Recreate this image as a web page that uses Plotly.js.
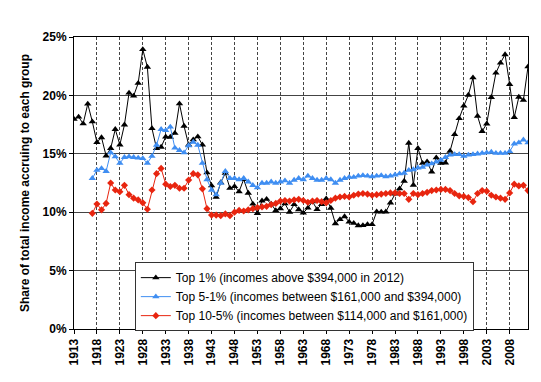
<!DOCTYPE html>
<html>
<head>
<meta charset="utf-8">
<script src="https://cdn.plot.ly/plotly-3.0.1.min.js"></script>
<style>html,body{margin:0;padding:0;background:#fff;}#chart{width:541px;height:382px;}</style>
</head>
<body>
<div id="chart"></div>
<script>
const years = [];
for (let y = 1913; y <= 2012; y++) years.push(y);

const top1 = [17.96,18.16,17.58,19.27,17.75,15.98,16.39,14.83,15.47,17.10,
15.77,17.48,20.21,19.95,21.05,23.94,22.43,17.17,15.46,15.58,
16.46,16.43,16.76,19.29,17.37,15.77,16.21,16.47,15.77,13.38,
12.27,11.30,12.54,13.34,12.06,12.21,11.76,12.82,11.64,10.71,
9.91,10.97,11.11,10.71,10.14,10.31,10.73,10.01,10.66,10.23,
9.94,10.37,10.91,10.24,10.66,11.16,10.36,9.03,9.38,9.63,
9.17,9.06,8.86,8.87,8.95,8.95,10.04,10.02,10.03,10.80,
11.56,12.01,12.67,15.92,12.32,15.47,14.20,14.33,13.45,14.67,
14.21,14.23,15.23,16.66,18.03,19.10,20.03,21.52,18.23,16.93,
17.57,19.84,21.92,22.78,23.50,20.95,18.12,19.86,19.59,22.46];

const top5to1 = [null,null,null,null,
12.9,13.6,13.75,13.5,15.1,14.75,14.2,14.7,14.75,14.7,
14.65,14.6,14.2,14.8,15.75,17.1,17.0,17.3,15.5,15.3,
15.1,15.7,16.0,15.75,14.2,12.8,11.9,11.5,12.5,13.5,
12.9,12.9,12.8,12.9,12.6,12.3,12.1,12.5,12.5,12.6,
12.5,12.6,12.7,12.5,12.75,12.9,12.8,13.1,12.9,12.75,
12.75,12.9,12.8,12.5,12.75,12.9,13.0,13.0,13.1,13.15,
13.1,13.05,13.1,13.15,13.05,13.1,13.2,13.3,13.35,13.6,
13.65,13.8,13.85,14.05,14.15,14.3,14.45,14.7,14.9,14.95,
14.95,14.8,14.9,14.95,15.0,15.05,15.1,15.15,15.05,15.05,
15.05,15.2,15.85,15.95,16.2,15.95];

const top10to5 = [null,null,null,null,
9.9,10.7,10.2,10.75,12.5,11.9,11.75,12.3,11.5,11.2,
11.05,10.8,10.25,11.9,13.3,13.75,12.4,12.2,12.3,12.05,
12.05,12.75,13.3,13.2,12.0,10.3,9.75,9.75,9.7,9.85,
9.7,10.0,10.15,10.1,10.2,10.3,10.4,10.45,10.5,10.65,
10.75,10.95,11.0,10.95,11.05,11.1,11.0,10.85,10.95,11.0,
10.9,10.8,11.0,11.2,11.3,11.35,11.3,11.45,11.55,11.6,
11.55,11.45,11.5,11.55,11.6,11.65,11.65,11.6,11.6,11.1,
11.6,11.5,11.6,11.7,11.85,11.9,11.95,11.95,11.85,11.6,
11.4,11.35,11.25,10.9,11.6,11.85,11.8,11.45,11.3,11.2,
11.1,11.65,12.4,12.25,12.3,11.85];

const seriesNames = [
  "Top 1% (incomes above $394,000 in 2012)",
  "Top 5-1% (incomes between $161,000 and $394,000)",
  "Top 10-5% (incomes between $114,000 and $161,000)"
];
const xTickVals = [1913,1918,1923,1928,1933,1938,1943,1948,1953,1958,1963,1968,1973,1978,1983,1988,1993,1998,2003,2008];
const xTickText = xTickVals.map(String);
const yTickVals = [0,5,10,15,20,25];
const yTickText = ['0%','5%','10%','15%','20%','25%'];

const FONT = "Liberation Sans, Arial, sans-serif";

const traces = [
  {x: years, y: top1, name: seriesNames[0], type: 'scatter', mode: 'lines+markers',
   line: {color: '#000000', width: 1}, marker: {symbol: 'triangle-up', size: 6.5, color: '#000000'}},
  {x: years, y: top5to1, name: seriesNames[1], type: 'scatter', mode: 'lines+markers',
   line: {color: '#3F8EF2', width: 1}, marker: {symbol: 'triangle-up', size: 6.5, color: '#3F8EF2'}},
  {x: years, y: top10to5, name: seriesNames[2], type: 'scatter', mode: 'lines+markers',
   line: {color: '#E8250F', width: 1}, marker: {symbol: 'diamond', size: 5.5, color: '#E8250F'}}
];

const layout = {
  width: 541, height: 382,
  margin: {l: 74, r: 13, t: 37, b: 53},
  paper_bgcolor: '#ffffff', plot_bgcolor: '#ffffff',
  font: {family: FONT, color: '#000'},
  showlegend: true,
  legend: {x: 0.134, y: 0.229, xanchor: 'left', yanchor: 'top',
    bgcolor: '#ffffff', bordercolor: '#333', borderwidth: 1,
    font: {family: FONT, size: 12, color: '#000'}, itemwidth: 30, tracegroupgap: 0},
  xaxis: {
    range: [1913, 2012], tickmode: 'array', tickvals: xTickVals, ticktext: xTickText,
    tickangle: -90, tickfont: {family: FONT, size: 12, weight: 'bold', color: '#000'},
    showgrid: true, gridcolor: '#444', gridwidth: 1, griddash: '3px,2px',
    showline: true, linecolor: '#000', linewidth: 1, mirror: true,
    ticks: 'outside', ticklen: 4, tickcolor: '#000', zeroline: false
  },
  yaxis: {
    range: [0, 25], tickmode: 'array', tickvals: yTickVals, ticktext: yTickText,
    tickfont: {family: FONT, size: 12, weight: 'bold', color: '#000'},
    showgrid: true, gridcolor: '#444', gridwidth: 1,
    showline: true, linecolor: '#000', linewidth: 1, mirror: true,
    ticks: 'outside', ticklen: 4, tickcolor: '#000', zeroline: false,
    title: {text: 'Share of total income accruing to each group',
      font: {family: FONT, size: 12, weight: 'bold', color: '#000'}, standoff: 10}
  }
};

Plotly.newPlot('chart', traces, layout, {displayModeBar: false, staticPlot: true});
</script>
</body>
</html>
